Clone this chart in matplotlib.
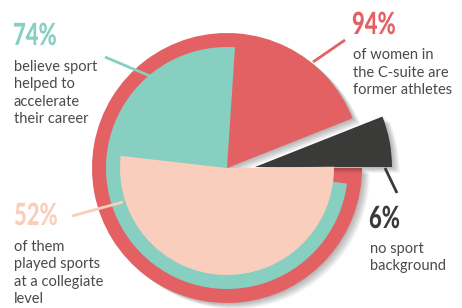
import matplotlib.pyplot as plt
import matplotlib.patheffects as pe
from matplotlib.transforms import Affine2D

# values
outer_values = [94, 6]      # former athletes / no sport background
career_values = [74, 26]    # believe sport helped their career
college_values = [52, 48]   # played sports at a collegiate level

pct_labels = ['74%', '94%', '52%', '6%']
desc_labels = [
    'believe sport\nhelped to\naccelerate\ntheir career',
    'of women in\nthe C-suite are\nformer athletes',
    'of them\nplayed sports\nat a collegiate\nlevel',
    'no sport\nbackground',
]

RED = '#E46163'
TEAL = '#86CFC1'
PEACH = '#F9CEBC'
DARK = '#3A3A39'
GREY = '#4A4A4A'


class Squeeze(pe.AbstractPathEffect):
    # narrows the glyphs horizontally (no condensed bold font is installed)
    def __init__(self, sx):
        super().__init__()
        self.sx = sx

    def draw_path(self, renderer, gc, tpath, affine, rgbFace=None):
        x0 = affine.get_matrix()[0, 2]
        affine = affine + Affine2D().translate(-x0, 0).scale(self.sx, 1).translate(x0, 0)
        renderer.draw_path(gc, tpath, affine, rgbFace)


fig = plt.figure(figsize=(4.62, 3.08), dpi=100)
ax = fig.add_axes([0, 0, 1, 1])

# soft drop shadow
shadow = [pe.SimplePatchShadow(offset=(k * 0.8, -k * 0.6), shadow_rgbFace='black', alpha=0.045)
          for k in range(1, 8)] + [pe.Normal()]

# outer pie: red 94%, dark 6% pulled out to the right
red_wedges, _ = ax.pie(outer_values, colors=[RED, 'none'], startangle=21.6,
                       radius=135, center=(227, 140), frame=True)
red_wedges[0].set_path_effects(shadow)
dark_wedges, _ = ax.pie(outer_values, colors=['none', DARK], startangle=21.6,
                        radius=137, center=(255, 141), frame=True)
dark_wedges[1].set_path_effects(shadow)

# teal 74%
ax.pie(career_values, colors=[TEAL, 'none'], startangle=86.2,
       radius=121, center=(227, 140), frame=True)

# peach 52%
ax.pie(college_values, colors=[PEACH, 'none'], startangle=173.5,
       radius=107, center=(227, 140), frame=True)

# leader lines
ax.plot([105, 150], [251, 232], color=TEAL, lw=2, solid_capstyle='butt')
ax.plot([345, 313], [268, 246], color=RED, lw=2, solid_capstyle='butt')
ax.plot([72, 123], [92, 106], color=PEACH, lw=2, solid_capstyle='butt')
ax.plot([385, 397], [140, 115], color=DARK, lw=2, solid_capstyle='butt')

pct_kw = dict(fontsize=22, fontweight='black', family=['Lato', 'DejaVu Sans'],
              va='baseline', path_effects=[Squeeze(0.72)])
body_kw = dict(fontsize=10.5, family=['Lato', 'DejaVu Sans'], color=GREY,
               va='baseline', linespacing=1.3)

# percentages
ax.text(13, 263, pct_labels[0], color=TEAL, **pct_kw)
ax.text(352, 274, pct_labels[1], color=RED, **pct_kw)
ax.text(14, 83, pct_labels[2], color=PEACH, **pct_kw)
ax.text(369, 80, pct_labels[3], color=DARK, **pct_kw)

# descriptions (y is the baseline of the last line)
ax.text(14, 185, desc_labels[0], **body_kw)
ax.text(353, 214, desc_labels[1], **body_kw)
ax.text(14, 5, desc_labels[2], **body_kw)
ax.text(370, 38, desc_labels[3], **body_kw)

ax.set_xlim(0, 462)
ax.set_ylim(0, 308)
ax.set_aspect('equal')
ax.axis('off')

fig.savefig('out.png', dpi=100)
